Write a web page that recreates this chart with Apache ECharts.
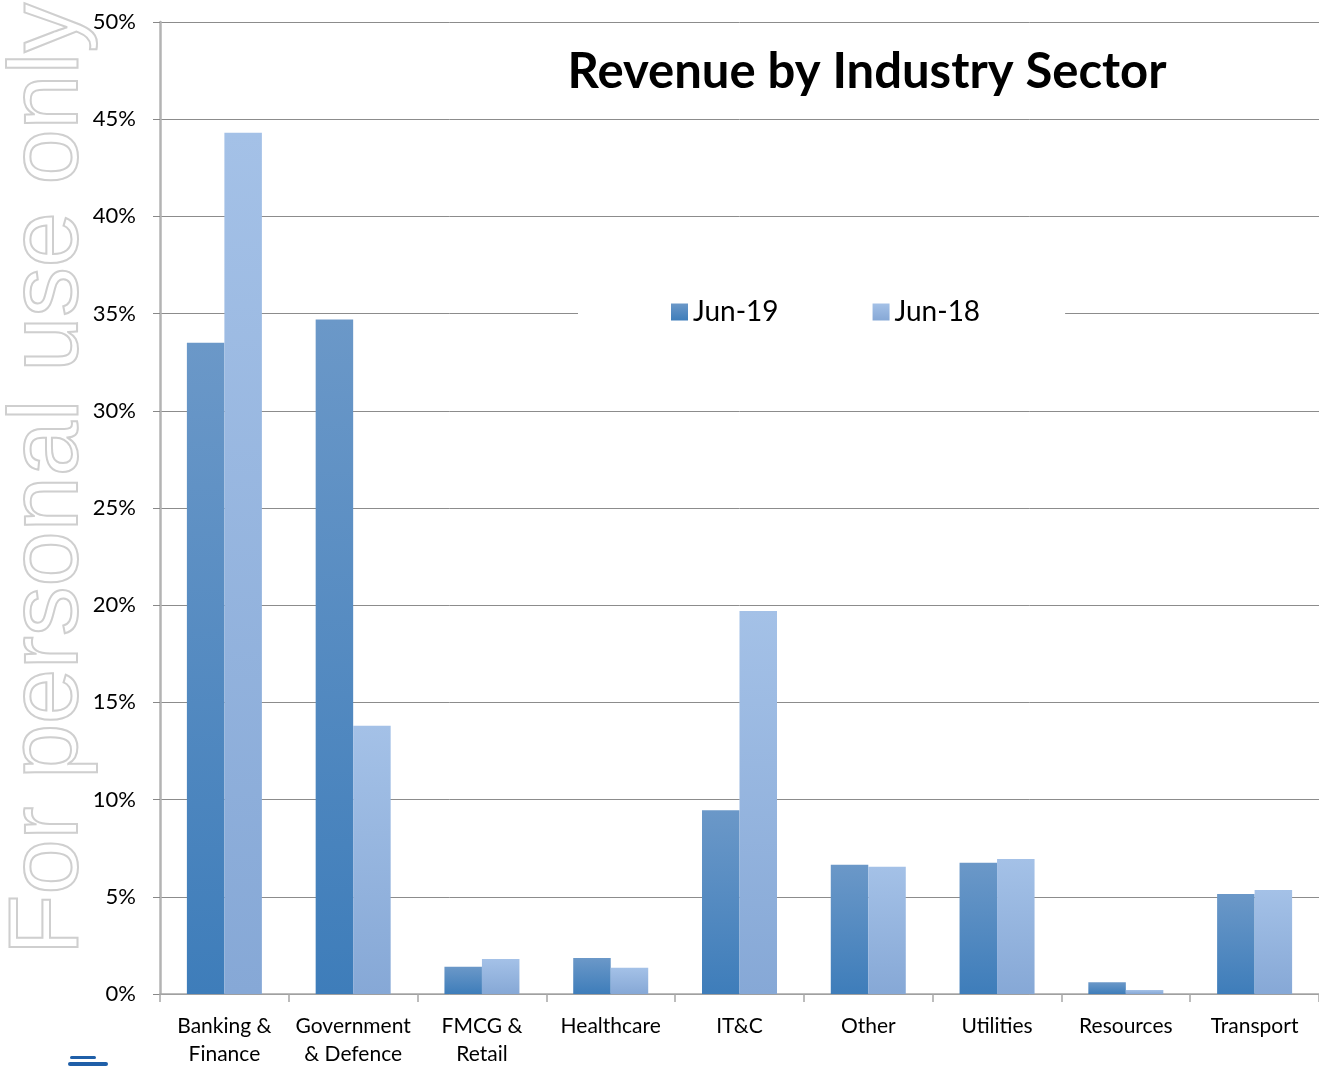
<!DOCTYPE html>
<html>
<head>
<meta charset="utf-8">
<script src="https://cdn.jsdelivr.net/npm/echarts@6/dist/echarts.min.js"></script>
<style>
html,body{margin:0;padding:0;background:#fff;}
#chart{width:1319px;height:1068px;}
</style>
</head>
<body>
<div id="chart"></div>
<script>
const categories = ['Banking &\nFinance', 'Government\n& Defence', 'FMCG &\nRetail', 'Healthcare', 'IT&C', 'Other', 'Utilities', 'Resources', 'Transport'];
const jun19 = [33.5, 34.7, 1.4, 1.85, 9.45, 6.65, 6.75, 0.6, 5.15];
const jun18 = [44.3, 13.8, 1.8, 1.35, 19.7, 6.55, 6.95, 0.2, 5.35];
const seriesNames = ['Jun-19', 'Jun-18'];
const yTicks = [0, 5, 10, 15, 20, 25, 30, 35, 40, 45, 50];

const FONT = 'Lato, "Open Sans", sans-serif';
const chart = echarts.init(document.getElementById('chart'), null, {renderer: 'canvas'});

function grad(top, bottom) {
  return new echarts.graphic.LinearGradient(0, 0, 0, 1, [
    {offset: 0, color: top}, {offset: 1, color: bottom}
  ]);
}

chart.setOption({
  backgroundColor: '#ffffff',
  animation: false,
  title: {
    text: 'Revenue by Industry Sector',
    left: 862, top: 43, textAlign: 'center',
    textStyle: {fontFamily: FONT, fontWeight: 'bold', fontSize: 49, color: '#000'}
  },
  legend: {
    data: seriesNames,
    icon: 'rect',
    left: 578, top: 290,
    backgroundColor: '#ffffff',
    padding: [8, 85, 8, 93],
    itemWidth: 17, itemHeight: 17,
    itemGap: 94,
    textStyle: {fontFamily: FONT, fontSize: 28, color: '#000'}
  },
  grid: {left: 160, right: -6, top: 22, bottom: 70, containLabel: false},
  xAxis: {
    type: 'category',
    data: categories,
    axisLine: {show: true, lineStyle: {color: '#A6A6A6', width: 1.5}},
    axisTick: {show: true, alignWithLabel: false, length: 8, lineStyle: {color: '#A6A6A6', width: 1.5}},
    axisLabel: {interval: 0, margin: 18, fontFamily: FONT, fontSize: 21, color: '#000', lineHeight: 28},
    splitLine: {show: false}
  },
  yAxis: {
    type: 'value',
    min: yTicks[0], max: yTicks[yTicks.length - 1], interval: 5,
    axisLine: {show: true, lineStyle: {color: '#B3B3B3', width: 2.5}},
    axisTick: {show: true, length: 7, lineStyle: {color: '#888', width: 1}},
    axisLabel: {margin: 24, fontFamily: FONT, fontSize: 22, color: '#000', formatter: '{value}%'},
    splitLine: {show: true, lineStyle: {color: '#8C8C8C', width: 1}}
  },
  series: [
    {
      name: seriesNames[0], type: 'bar', data: jun19,
      barWidth: 37.5, barGap: '0%',
      itemStyle: {color: grad('#6B98C8', '#3E7DBA')}
    },
    {
      name: seriesNames[1], type: 'bar', data: jun18,
      barWidth: 37.5, barGap: '0%',
      itemStyle: {color: grad('#A4C1E7', '#86A8D6')}
    }
  ],
  graphic: [
    {
      type: 'text',
      x: 50, y: 955,
      rotation: Math.PI / 2,
      z: 0,
      style: {
        text: 'For personal use only',
        fontFamily: '"Liberation Sans", Arial, sans-serif',
        fontSize: 99,
        fill: 'rgba(255,255,255,0)',
        stroke: '#CFCFCF',
        lineWidth: 2,
        textAlign: 'left',
        textVerticalAlign: 'middle'
      }
    },
    {
      type: 'rect', shape: {x: 70, y: 1056, width: 26, height: 3, r: 1.5},
      style: {fill: '#1F5FA8'}
    },
    {
      type: 'rect', shape: {x: 68, y: 1062, width: 40, height: 4, r: 2},
      style: {fill: '#1F5FA8'}
    }
  ]
});
</script>
</body>
</html>
